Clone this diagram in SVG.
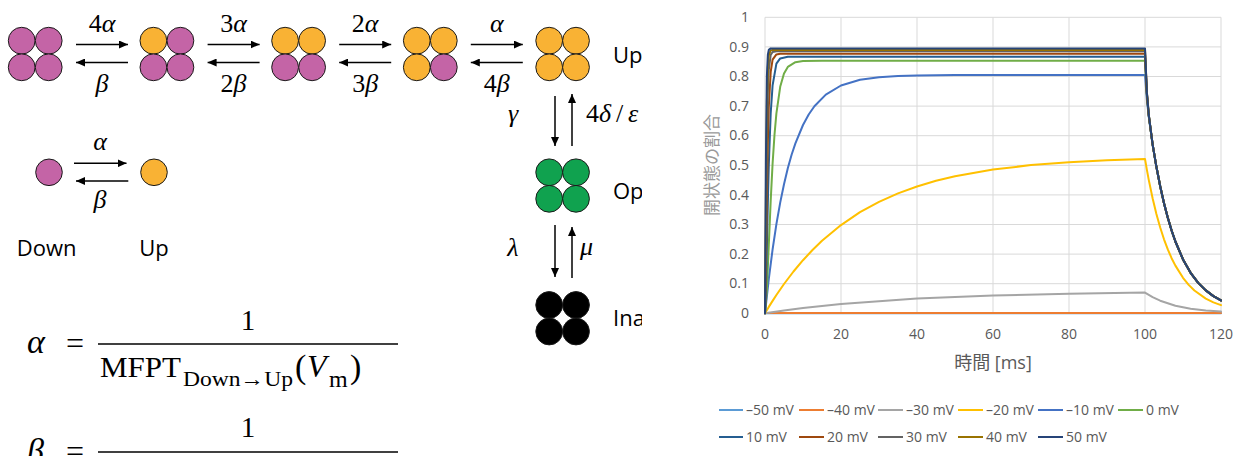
<svg xmlns="http://www.w3.org/2000/svg" width="1240" height="456" viewBox="0 0 1240 456">
<style>
.p{fill:#C464A6}.o{fill:#F9B234}.g{fill:#10A24F}.k{fill:#000}
circle{stroke:#1a1a1a;stroke-width:1}
.ar{stroke:#000;stroke-width:1.5;fill:none;marker-end:url(#ah)}
.m{font-family:"Liberation Serif","DejaVu Serif",serif;font-size:26px;fill:#000}
.it{font-style:italic}
.lbl{font-family:"Open Sans","Noto Sans",sans-serif;font-size:22px;fill:#000}
.f{font-family:"Liberation Serif","DejaVu Serif",serif;font-size:29px;fill:#000}
.grid{stroke:#D9D9D9;stroke-width:1;fill:none}
.tk{font-family:"Open Sans","Noto Sans CJK JP",sans-serif;font-size:14px;fill:#595959}
.c{fill:none;stroke-width:2;stroke-linejoin:round;stroke-linecap:round}
.lg{stroke-width:2}
</style>
<defs>
<marker id="ah" markerWidth="9" markerHeight="8" refX="9" refY="4" orient="auto" markerUnits="userSpaceOnUse"><path d="M0,0 L9,4 L0,8 z" fill="#000"/></marker>
<clipPath id="lp"><rect x="0" y="0" width="642" height="456"/></clipPath>
</defs>
<rect width="1240" height="456" fill="#fff"/>

<!-- state nodes -->
<g id="s0">
<circle class="p" cx="21.7" cy="40.7" r="13.4"/><circle class="p" cx="48.7" cy="40.7" r="13.4"/>
<circle class="p" cx="21.7" cy="67.3" r="13.4"/><circle class="p" cx="48.7" cy="67.3" r="13.4"/>
</g>
<g id="s1">
<circle class="o" cx="153.4" cy="40.7" r="13.4"/><circle class="p" cx="180.4" cy="40.7" r="13.4"/>
<circle class="p" cx="153.4" cy="67.3" r="13.4"/><circle class="p" cx="180.4" cy="67.3" r="13.4"/>
</g>
<g id="s2">
<circle class="o" cx="285.1" cy="40.7" r="13.4"/><circle class="o" cx="312.1" cy="40.7" r="13.4"/>
<circle class="p" cx="285.1" cy="67.3" r="13.4"/><circle class="p" cx="312.1" cy="67.3" r="13.4"/>
</g>
<g id="s3">
<circle class="o" cx="416.8" cy="40.7" r="13.4"/><circle class="o" cx="443.8" cy="40.7" r="13.4"/>
<circle class="o" cx="416.8" cy="67.3" r="13.4"/><circle class="p" cx="443.8" cy="67.3" r="13.4"/>
</g>
<g id="s4-up">
<circle class="o" cx="549.2" cy="40.7" r="13.4"/><circle class="o" cx="576" cy="40.7" r="13.4"/>
<circle class="o" cx="549.2" cy="67.3" r="13.4"/><circle class="o" cx="576" cy="67.3" r="13.4"/>
<text class="lbl" x="613" y="63" clip-path="url(#lp)">Up</text>
</g>
<g id="open">
<circle class="g" cx="549.2" cy="172.3" r="13.4"/><circle class="g" cx="576" cy="172.3" r="13.4"/>
<circle class="g" cx="549.2" cy="198.8" r="13.4"/><circle class="g" cx="576" cy="198.8" r="13.4"/>
<text class="lbl" x="613" y="199" clip-path="url(#lp)">Op</text>
</g>
<g id="inactive">
<circle class="k" cx="549.2" cy="305" r="13.4"/><circle class="k" cx="576" cy="305" r="13.4"/>
<circle class="k" cx="549.2" cy="331.5" r="13.4"/><circle class="k" cx="576" cy="331.5" r="13.4"/>
<text class="lbl" x="613" y="326" clip-path="url(#lp)">Ina</text>
</g>
<g id="down1">
<circle class="p" cx="49" cy="172.3" r="13.3"/>
<text class="lbl" x="16.7" y="256">Down</text>
</g>
<g id="up1">
<circle class="o" cx="154" cy="172.3" r="13.3"/>
<text class="lbl" x="139.3" y="256">Up</text>
</g>

<!-- connectors -->
<g id="connectors">
<line class="ar" x1="76" y1="44.5" x2="128" y2="44.5"/><line class="ar" x1="128" y1="62.5" x2="76" y2="62.5"/>
<line class="ar" x1="207.6" y1="44.5" x2="259.6" y2="44.5"/><line class="ar" x1="259.6" y1="62.5" x2="207.6" y2="62.5"/>
<line class="ar" x1="339.2" y1="44.5" x2="391.2" y2="44.5"/><line class="ar" x1="391.2" y1="62.5" x2="339.2" y2="62.5"/>
<line class="ar" x1="470.8" y1="44.5" x2="522.8" y2="44.5"/><line class="ar" x1="522.8" y1="62.5" x2="470.8" y2="62.5"/>
<line class="ar" x1="74" y1="163.3" x2="126.5" y2="163.3"/><line class="ar" x1="128.3" y1="181" x2="76" y2="181"/>
<line class="ar" x1="555" y1="96" x2="555" y2="146"/><line class="ar" x1="572" y1="146" x2="572" y2="94"/>
<line class="ar" x1="555" y1="225" x2="555" y2="277"/><line class="ar" x1="572" y1="278" x2="572" y2="227"/>
<text class="m" x="102" y="32" text-anchor="middle">4<tspan class="it">α</tspan></text>
<text class="m it" x="102" y="92" text-anchor="middle">β</text>
<text class="m" x="233.6" y="32" text-anchor="middle">3<tspan class="it">α</tspan></text>
<text class="m" x="233.6" y="92" text-anchor="middle">2<tspan class="it">β</tspan></text>
<text class="m" x="365.2" y="32" text-anchor="middle">2<tspan class="it">α</tspan></text>
<text class="m" x="365.2" y="92" text-anchor="middle">3<tspan class="it">β</tspan></text>
<text class="m it" x="496.8" y="32" text-anchor="middle">α</text>
<text class="m" x="496.8" y="92" text-anchor="middle">4<tspan class="it">β</tspan></text>
<text class="m it" x="100" y="150" text-anchor="middle">α</text>
<text class="m it" x="100" y="208" text-anchor="middle">β</text>
<text class="m it" x="513" y="122" text-anchor="middle">γ</text>
<text class="m" y="122" clip-path="url(#lp)"><tspan x="586">4</tspan><tspan class="it" x="599">δ</tspan><tspan x="616">/</tspan><tspan class="it" x="628">ε</tspan></text>
<text class="m it" x="513" y="256" text-anchor="middle">λ</text>
<text class="m it" x="580" y="255">μ</text>
</g>

<!-- formulas -->
<g id="formula-alpha">
<text class="f it" x="27" y="353" style="font-size:34px">α</text>
<text class="f" x="66" y="354" style="font-size:32px">=</text>
<line x1="98" y1="344" x2="398" y2="344" stroke="#000" stroke-width="1.5"/>
<text class="f" x="248" y="330" text-anchor="middle">1</text>
<text class="f" x="100" y="377" textLength="81" lengthAdjust="spacingAndGlyphs">MFPT</text>
<text class="f" x="183" y="386" style="font-size:22px" textLength="110" lengthAdjust="spacingAndGlyphs">Down→Up</text>
<text class="f" x="295" y="378" style="font-size:34px">(</text>
<text class="f it" x="307" y="377" style="font-size:32px">V</text>
<text class="f" x="329" y="387" style="font-size:24px">m</text>
<text class="f" x="350" y="378" style="font-size:34px">)</text>
</g>
<g id="formula-beta">
<text class="f it" x="27" y="462" style="font-size:34px">β</text>
<text class="f" x="66" y="462" style="font-size:32px">=</text>
<line x1="98" y1="452" x2="398" y2="452" stroke="#000" stroke-width="1.5"/>
<text class="f" x="248" y="437" text-anchor="middle">1</text>
</g>

<!-- chart -->
<g id="chart">
<g class="grid">
<path d="M765,17.3V313.3M841,17.3V313.3M917,17.3V313.3M993,17.3V313.3M1069,17.3V313.3M1145,17.3V313.3M1221,17.3V313.3"/>
<path d="M765,17.3H1221M765,46.9H1221M765,76.5H1221M765,106.1H1221M765,135.7H1221M765,165.3H1221M765,194.9H1221M765,224.5H1221M765,254.1H1221M765,283.7H1221M765,313.3H1221"/>
</g>
<g class="tk" text-anchor="end">
<text x="749" y="22">1</text><text x="749" y="51.6">0.9</text><text x="749" y="81.2">0.8</text><text x="749" y="110.8">0.7</text><text x="749" y="140.4">0.6</text><text x="749" y="170">0.5</text><text x="749" y="199.6">0.4</text><text x="749" y="229.2">0.3</text><text x="749" y="258.8">0.2</text><text x="749" y="288.4">0.1</text><text x="749" y="318">0</text>
</g>
<g class="tk" text-anchor="middle">
<text x="765" y="339">0</text><text x="841" y="339">20</text><text x="917" y="339">40</text><text x="993" y="339">60</text><text x="1069" y="339">80</text><text x="1145" y="339">100</text><text x="1221" y="339">120</text>
</g>
<text class="tk" x="993" y="369" text-anchor="middle" style="font-size:18px">時間 [ms]</text>
<text class="tk" x="718" y="165" text-anchor="middle" transform="rotate(-90 718 165)" style="font-size:17px;fill:#9A9A9A">開状態の割合</text>

<path class="c" stroke="#5B9BD5" d="M765,313.3H1221"/>
<path class="c" stroke="#ED7D31" d="M765,313H1221"/>
<polyline class="c" stroke="#A5A5A5" points="765,313.3 784,310.5 803,308 841,304 917,298.6 993,295.5 1069,293.7 1145,292.6 1152.6,297.2 1160.2,300.7 1175.4,305.7 1190.6,308.7 1205.8,310.5 1221,311.6"/>
<polyline class="c" stroke="#FFC000" points="765,313.3 768.8,306.9 772.6,300.9 776.4,295 784,284 793.5,271.5 803,260.2 812.5,250 822,240.8 841,225.1 860,212.2 879,201.8 898,193.4 917,186.5 936,180.8 955,176.3 993,169.6 1031,165.1 1069,162.2 1107,160.2 1145,158.9 1146.9,169.9 1148.8,180.1 1152.6,198.2 1156.4,214 1160.2,227.5 1164,239.3 1167.8,249.4 1171.6,258.2 1175.4,265.6 1183,277.8 1188.7,284.9 1194.4,290.5 1205.8,298.6 1213.4,302.4 1221,305.1"/>
<polyline class="c" stroke="#4472C4" points="765,313.3 768.8,278.8 772.6,249.4 776.4,224.2 780.2,202.6 784,184.2 787.8,168.3 791.6,154.8 795.4,143.4 803,125 808.7,114.5 814.4,106.3 825.8,94.6 841,85.5 860,79.8 879,77.2 898,76 917,75.4 955,75 1145,75 1146.9,100 1148.8,117.1 1152.6,144.3 1156.4,166.8 1160.2,186.3 1164,203.2 1167.8,217.8 1171.6,230.5 1175.4,241.5 1183,259.4 1190.6,272.8 1198.2,282.9 1205.8,290.4 1213.4,296.1 1221,300.4"/>
<polyline class="c" stroke="#70AD47" points="765,313.3 766.9,289.4 768.8,244.9 770.7,200.6 772.6,163.5 774.5,134.8 776.4,113.3 780.2,86.8 784,73.4 787.8,66.9 795.4,62.2 803,61.1 822,60.8 1145,60.8 1146.9,95.9 1148.8,116 1152.6,144.3 1156.4,166.8 1160.2,186.3 1164,203.2 1167.8,217.8 1171.6,230.5 1175.4,241.5 1183,259.4 1190.6,272.8 1198.2,282.9 1205.8,290.4 1213.4,296.1 1221,300.4"/>
<polyline class="c" stroke="#255E91" points="765,313.3 765.95,290.2 766.9,246.5 767.85,202.4 768.8,165 770.7,113.3 772.6,85.3 776.4,63.7 780.2,58.4 787.8,56.7 1145,56.7 1146.9,94.7 1148.8,115.6 1152.6,144.3 1156.4,166.8 1160.2,186.3 1164,203.2 1167.8,217.8 1171.6,230.5 1175.4,241.5 1183,259.4 1190.6,272.8 1198.2,282.9 1205.8,290.4 1213.4,296.1 1221,300.4"/>
<polyline class="c" stroke="#9E480E" points="765,313.3 765.95,266.2 766.9,196.5 767.85,142.5 768.8,106.9 770.7,71.9 772.6,59.7 776.4,54.4 780.2,53.7 1145,53.7 1146.9,93.9 1148.8,115.4 1152.6,144.3 1156.4,166.8 1160.2,186.3 1164,203.2 1167.8,217.8 1171.6,230.5 1175.4,241.5 1183,259.4 1190.6,272.8 1198.2,282.9 1205.8,290.4 1213.4,296.1 1221,300.4"/>
<polyline class="c" stroke="#636363" points="765,313.3 765.95,229.6 766.9,141 767.85,92.6 768.8,69.7 770.7,54.9 772.6,52 776.4,51.3 1145,51.3 1146.9,93.2 1148.8,115.3 1152.6,144.3 1156.4,166.8 1160.2,186.3 1164,203.2 1167.8,217.8 1171.6,230.5 1175.4,241.5 1183,259.4 1190.6,272.8 1198.2,282.9 1205.8,290.4 1213.4,296.1 1221,300.4"/>
<polyline class="c" stroke="#997300" points="765,313.3 765.95,191.9 766.9,101.3 767.85,67 768.8,55.4 770.7,50.4 772.6,49.9 1145,49.9 1146.9,92.8 1148.8,115.1 1152.6,144.3 1156.4,166.8 1160.2,186.3 1164,203.2 1167.8,217.8 1171.6,230.5 1175.4,241.5 1183,259.4 1190.6,272.8 1198.2,282.9 1205.8,290.4 1213.4,296.1 1221,300.4"/>
<polyline class="c" stroke="#264478" points="765,313.3 765.95,156.2 766.9,75.6 767.85,54.8 768.8,49.9 770.7,48.4 1145,48.4 1146.9,92.4 1148.8,115 1152.6,144.3 1156.4,166.8 1160.2,186.3 1164,203.2 1167.8,217.8 1171.6,230.5 1175.4,241.5 1183,259.4 1190.6,272.8 1198.2,282.9 1205.8,290.4 1213.4,296.1 1221,300.4"/>

<g id="legend">
<g class="lg">
<line x1="719" y1="410" x2="743" y2="410" stroke="#5B9BD5"/>
<line x1="799" y1="410" x2="824" y2="410" stroke="#ED7D31"/>
<line x1="878" y1="410" x2="903" y2="410" stroke="#A5A5A5"/>
<line x1="958" y1="410" x2="983" y2="410" stroke="#FFC000"/>
<line x1="1038" y1="410" x2="1063" y2="410" stroke="#4472C4"/>
<line x1="1118" y1="410" x2="1143" y2="410" stroke="#70AD47"/>
<line x1="719" y1="437" x2="743" y2="437" stroke="#255E91"/>
<line x1="799" y1="437" x2="824" y2="437" stroke="#9E480E"/>
<line x1="878" y1="437" x2="903" y2="437" stroke="#636363"/>
<line x1="958" y1="437" x2="983" y2="437" stroke="#997300"/>
<line x1="1038" y1="437" x2="1063" y2="437" stroke="#264478"/>
</g>
<g class="tk">
<text x="746" y="415">–50 mV</text><text x="827" y="415">–40 mV</text><text x="906" y="415">–30 mV</text><text x="986" y="415">–20 mV</text><text x="1066" y="415">–10 mV</text><text x="1146" y="415">0 mV</text>
<text x="746" y="442">10 mV</text><text x="827" y="442">20 mV</text><text x="906" y="442">30 mV</text><text x="986" y="442">40 mV</text><text x="1066" y="442">50 mV</text>
</g>
</g>
</g>
</svg>
